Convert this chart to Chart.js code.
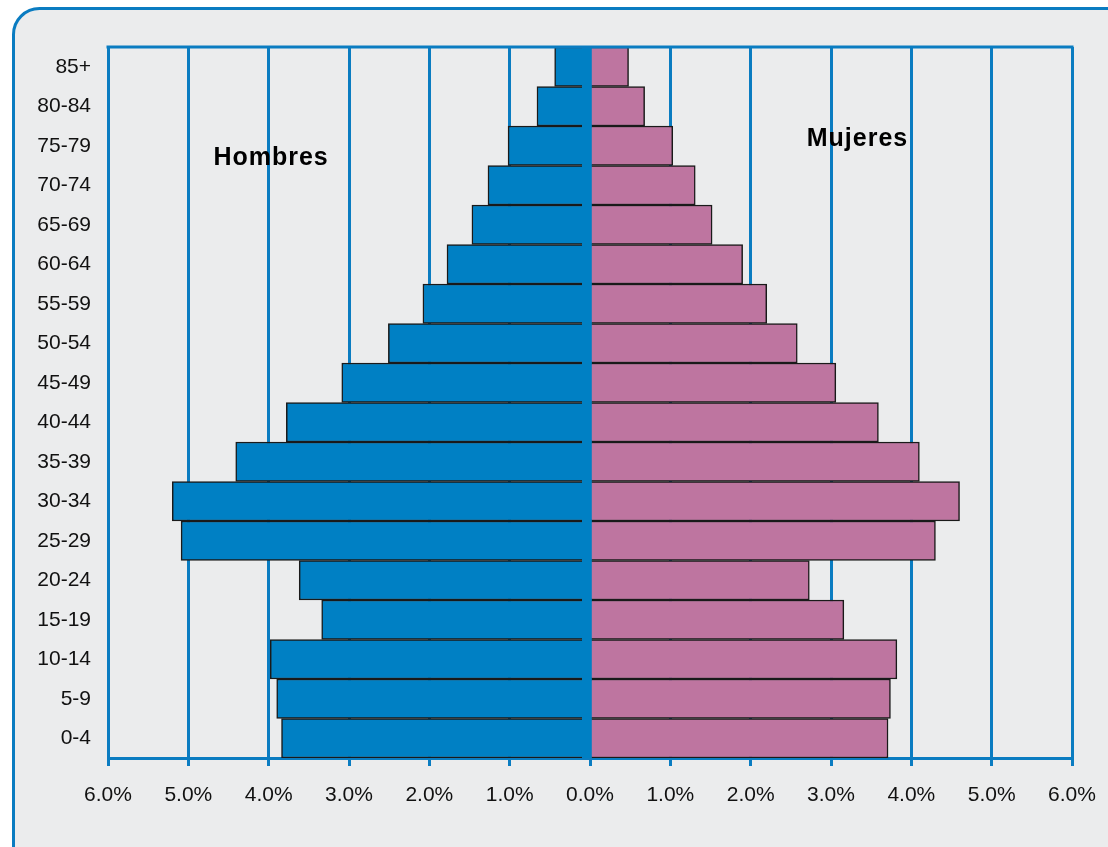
<!DOCTYPE html>
<html>
<head>
<meta charset="utf-8">
<script src="https://cdn.jsdelivr.net/npm/chart.js@4"></script>
<style>
  html, body { margin: 0; padding: 0; background: #fff; }
  #wrap { width: 1108px; height: 847px; position: relative; }
</style>
</head>
<body>
<div id="wrap"><canvas id="myChart"></canvas></div>
<script>
const ages = ['0-4', '5-9', '10-14', '15-19', '20-24', '25-29', '30-34', '35-39', '40-44',
  '45-49', '50-54', '55-59', '60-64', '65-69', '70-74', '75-79', '80-84', '85+'];
const hombres = [3.84, 3.90, 3.98, 3.34, 3.62, 5.09, 5.20, 4.41, 3.78,
  3.09, 2.51, 2.08, 1.78, 1.47, 1.27, 1.02, 0.66, 0.44];
const mujeres = [3.71, 3.74, 3.82, 3.16, 2.73, 4.30, 4.60, 4.10, 3.59,
  3.06, 2.58, 2.20, 1.90, 1.52, 1.31, 1.03, 0.68, 0.48];
const xTicks = [-6, -5, -4, -3, -2, -1, 0, 1, 2, 3, 4, 5, 6];

const BLUE = '#0a7cc1';

// frame, zero axis band, top border and the two labels
const decor = {
  id: 'decor',
  beforeDraw(chart) {
    const ctx = chart.ctx;
    ctx.save();
    ctx.fillStyle = '#ffffff';
    ctx.fillRect(0, 0, chart.width, chart.height);
    ctx.beginPath();
    ctx.roundRect(13.5, 8.5, chart.width + 20, chart.height + 30, 26);
    ctx.fillStyle = '#ebeced';
    ctx.fill();
    ctx.lineWidth = 3;
    ctx.strokeStyle = BLUE;
    ctx.stroke();
    ctx.restore();
  },
  afterDatasetsDraw(chart) {
    const ctx = chart.ctx;
    const a = chart.chartArea;
    const x = chart.scales.x;
    const x0 = x.getPixelForValue(0);
    ctx.save();
    // zero axis drawn over the bars
    ctx.fillStyle = '#0080c4';
    ctx.fillRect(x0 - 8, a.top, 9.5, a.bottom - a.top);
    ctx.strokeStyle = BLUE;
    ctx.lineWidth = 3;
    ctx.beginPath();
    ctx.moveTo(a.left - 1.5, a.top);
    ctx.lineTo(a.right + 1.5, a.top);
    ctx.stroke();
    ctx.fillStyle = '#000';
    ctx.font = 'bold 25px "Liberation Sans", Arial, sans-serif';
    ctx.letterSpacing = '1px';
    ctx.textAlign = 'center';
    ctx.textBaseline = 'alphabetic';
    ctx.fillText('Hombres', x.getPixelForValue(-3.97), 165);
    ctx.fillText('Mujeres', x.getPixelForValue(3.33), 146);
    ctx.letterSpacing = '0px';
    ctx.restore();
  }
};

new Chart(document.getElementById('myChart').getContext('2d'), {
  type: 'bar',
  data: {
    labels: ages,
    datasets: [
      {
        label: 'Hombres',
        data: hombres.map((v) => -v),
        backgroundColor: '#0080c4',
        borderColor: '#1a1a1a',
        borderWidth: 1.5,
        borderSkipped: 'start',
        barPercentage: 1,
        categoryPercentage: 1,
      },
      {
        label: 'Mujeres',
        data: mujeres,
        backgroundColor: '#be75a0',
        borderColor: '#1a1a1a',
        borderWidth: 1.5,
        borderSkipped: 'start',
        barPercentage: 1,
        categoryPercentage: 1,
      },
    ],
  },
  options: {
    indexAxis: 'y',
    responsive: true,
    maintainAspectRatio: false,
    animation: false,
    devicePixelRatio: 1,
    layout: { padding: { left: 0, right: 36, top: 47, bottom: 0 } },
    plugins: {
      legend: { display: false },
      tooltip: { enabled: false },
    },
    scales: {
      x: {
        min: -6,
        max: 6,
        afterBuildTicks: (scale) => {
          scale.ticks = xTicks.map((v) => ({ value: v }));
        },
        afterFit: (scale) => {
          scale.height = 89;
          scale.paddingLeft = 0;
          scale.paddingRight = 0;
        },
        grid: {
          color: BLUE,
          lineWidth: 3,
          tickLength: 8,
          tickColor: BLUE,
          tickWidth: 3,
        },
        border: { color: BLUE, width: 3 },
        ticks: {
          padding: 17,
          color: '#111',
          font: { family: '"Liberation Sans", Arial, sans-serif', size: 21 },
          maxRotation: 0,
          callback: (v) => Math.abs(v).toFixed(1) + '%',
        },
      },
      y: {
        stacked: true,
        reverse: true,
        afterFit: (scale) => {
          scale.width = 108;
          scale.paddingTop = 0;
          scale.paddingBottom = 0;
        },
        grid: { display: false, drawTicks: false },
        border: { display: false },
        ticks: {
          padding: 17,
          color: '#111',
          font: { family: '"Liberation Sans", Arial, sans-serif', size: 21 },
        },
      },
    },
  },
  plugins: [decor],
});
</script>
</body>
</html>
